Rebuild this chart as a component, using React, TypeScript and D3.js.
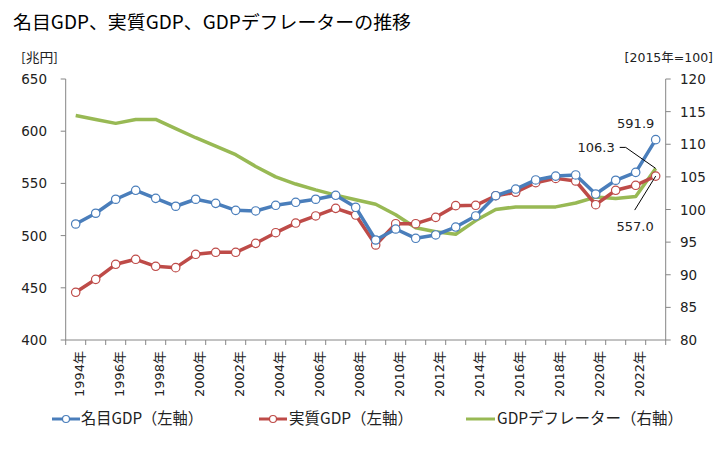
import React from "react";
import * as d3 from "d3";

const years: number[] = d3.range(1994, 2024);
const nominal: number[] = [511.1, 521.4, 534.8, 543.4, 535.7, 528.1, 534.8, 530.9, 524.2, 523.6,
  529.0, 531.9, 534.8, 538.6, 527.1, 495.8, 506.3, 497.4, 500.6, 508.2,
  518.8, 538.2, 544.6, 553.3, 557.0, 558.1, 539.8, 553.0, 560.6, 591.9];
const real: number[] = [445.7, 458.1, 472.5, 477.3, 470.6, 469.3, 482.1, 484.0, 484.0, 492.6,
  502.8, 512.0, 518.8, 526.1, 519.7, 491.0, 511.4, 511.4, 517.5, 528.7,
  529.0, 538.2, 541.5, 550.7, 554.8, 552.3, 529.6, 543.4, 548.2, 557.0];
const deflator: number[] = [114.4, 113.8, 113.2, 113.8, 113.8, 112.4, 111.0, 109.7, 108.4, 106.6,
  105.0, 103.9, 103.0, 102.2, 101.5, 100.8, 99.2, 97.2, 96.6, 96.2,
  98.3, 100.0, 100.4, 100.4, 100.4, 101.0, 101.9, 101.7, 102.0, 106.3];
const leftTicks: number[] = [400, 450, 500, 550, 600, 650];
const rightTicks: number[] = [80, 85, 90, 95, 100, 105, 110, 115, 120];

const BLUE = "#4a7ebb";
const RED = "#be4b48";
const GREEN = "#98b954";
const AXIS = "#868686";
const NUM_FONT = "'DejaVu Sans', 'Noto Sans CJK JP', sans-serif";
const JP_FONT = "'Noto Sans CJK JP', sans-serif";

export default function App() {
  const W = 728, H = 450;
  const x0 = 65.7, x1 = 665.7, yTop = 79, yBot = 340;
  const x = d3.scaleBand<number>().domain(years).range([x0, x1]).padding(0);
  const cx = (yr: number) => (x(yr) as number) + x.bandwidth() / 2;
  const yL = d3.scaleLinear().domain([400, 650]).range([yBot, yTop]);
  const yR = d3.scaleLinear().domain([80, 120]).range([yBot, yTop]);

  const lineL = d3.line<number>().x((_, i) => cx(years[i])).y((d) => yL(d));
  const lineR = d3.line<number>().x((_, i) => cx(years[i])).y((d) => yR(d));

  const last = years[years.length - 1];
  const lx = cx(last);
  const nLast = nominal[nominal.length - 1];
  const rLast = real[real.length - 1];
  const dLast = deflator[deflator.length - 1];

  const legY = 419;

  return (
    <svg width={W} height={H} style={{ position: "absolute", left: 0, top: 0, background: "#fff" }}>
      <rect x={0} y={0} width={W} height={H} fill="#fff" />
      <text x={13} y={29} fontFamily={JP_FONT} fontSize={18.5} fill="#000" textLength={398} lengthAdjust="spacingAndGlyphs">
        名目GDP、実質GDP、GDPデフレーターの推移
      </text>
      <text x={21} y={62} fontFamily={JP_FONT} fontSize={13} fill="#222" textLength={37} lengthAdjust="spacingAndGlyphs">[兆円]</text>
      <text x={713} y={62} textAnchor="end" fontFamily={NUM_FONT} fontSize={12.5} fill="#222">[2015年=100]</text>

      {/* left axis */}
      <line x1={x0} x2={x0} y1={yTop} y2={yBot} stroke={AXIS} strokeWidth={1} />
      {leftTicks.map((t) => (
        <g key={"l" + t}>
          <line x1={x0 - 5} x2={x0} y1={yL(t)} y2={yL(t)} stroke={AXIS} />
          <text x={47} y={yL(t) + 5} textAnchor="end" fontFamily={NUM_FONT} fontSize={13.5} fill="#222">{t}</text>
        </g>
      ))}
      {/* right axis */}
      <line x1={x1} x2={x1} y1={yTop} y2={yBot} stroke={AXIS} strokeWidth={1} />
      {rightTicks.map((t) => (
        <g key={"r" + t}>
          <line x1={x1} x2={x1 + 5} y1={yR(t)} y2={yR(t)} stroke={AXIS} />
          <text x={680} y={yR(t) + 5} textAnchor="start" fontFamily={NUM_FONT} fontSize={13.5} fill="#222">{t}</text>
        </g>
      ))}
      {/* bottom axis */}
      <line x1={x0} x2={x1} y1={yBot} y2={yBot} stroke={AXIS} />
      {years.concat([last + 1]).map((yr, i) => {
        const xx = i < years.length ? (x(yr) as number) : x1;
        return <line key={"bt" + yr} x1={xx} x2={xx} y1={yBot} y2={yBot + 5} stroke={AXIS} />;
      })}
      {years.filter((yr) => (yr - 1994) % 2 === 0).map((yr) => (
        <text key={"xl" + yr} transform={`translate(${cx(yr) + 8},351) rotate(-90)`} textAnchor="end"
          fontFamily={NUM_FONT} fontSize={13} fill="#222">{yr}年</text>
      ))}

      {/* series */}
      <path d={lineR(deflator) || ""} fill="none" stroke={GREEN} strokeWidth={3.5} strokeLinejoin="round" />
      <path d={lineL(real) || ""} fill="none" stroke={RED} strokeWidth={3.5} strokeLinejoin="round" />
      {real.map((v, i) => (
        <circle key={"rc" + i} cx={cx(years[i])} cy={yL(v)} r={4.2} fill="#fff" stroke={RED} strokeWidth={1.2} />
      ))}
      <path d={lineL(nominal) || ""} fill="none" stroke={BLUE} strokeWidth={3.5} strokeLinejoin="round" />
      {nominal.map((v, i) => (
        <circle key={"nc" + i} cx={cx(years[i])} cy={yL(v)} r={4.2} fill="#fff" stroke={BLUE} strokeWidth={1.2} />
      ))}

      {/* annotations */}
      <text x={lx - 20} y={yL(nLast) - 11.5} textAnchor="middle" fontFamily={NUM_FONT} fontSize={13} fill="#222">{nLast.toFixed(1)}</text>
      <text x={lx - 41} y={yR(dLast) - 16} textAnchor="end" fontFamily={NUM_FONT} fontSize={13} fill="#222">{dLast.toFixed(1)}</text>
      <polyline points={`${lx - 36},${yR(dLast) - 21} ${lx - 30},${yR(dLast) - 21} ${lx},${yR(dLast)}`} fill="none" stroke="#000" strokeWidth={1} />
      <text x={lx - 2} y={yL(rLast) + 55} textAnchor="end" fontFamily={NUM_FONT} fontSize={13} fill="#222">{rLast.toFixed(1)}</text>
      <line x1={lx - 21} y1={yL(rLast) + 34} x2={lx} y2={yL(rLast)} stroke="#000" strokeWidth={1} />

      {/* legend */}
      <g fontFamily={JP_FONT} fontSize={15.5} fill="#222">
        <line x1={52} x2={80} y1={legY} y2={legY} stroke={BLUE} strokeWidth={3} />
        <circle cx={66} cy={legY} r={3.5} fill="#fff" stroke={BLUE} strokeWidth={1.2} />
        <text x={81} y={legY + 4.5} textLength={122} lengthAdjust="spacingAndGlyphs">名目GDP（左軸）</text>
        <line x1={259} x2={287} y1={legY} y2={legY} stroke={RED} strokeWidth={3} />
        <circle cx={273} cy={legY} r={3.5} fill="#fff" stroke={RED} strokeWidth={1.2} />
        <text x={289} y={legY + 4.5} textLength={124} lengthAdjust="spacingAndGlyphs">実質GDP（左軸）</text>
        <line x1={466} x2={495} y1={legY} y2={legY} stroke={GREEN} strokeWidth={3} />
        <text x={497} y={legY + 4.5} textLength={186} lengthAdjust="spacingAndGlyphs">GDPデフレーター（右軸）</text>
      </g>
    </svg>
  );
}
